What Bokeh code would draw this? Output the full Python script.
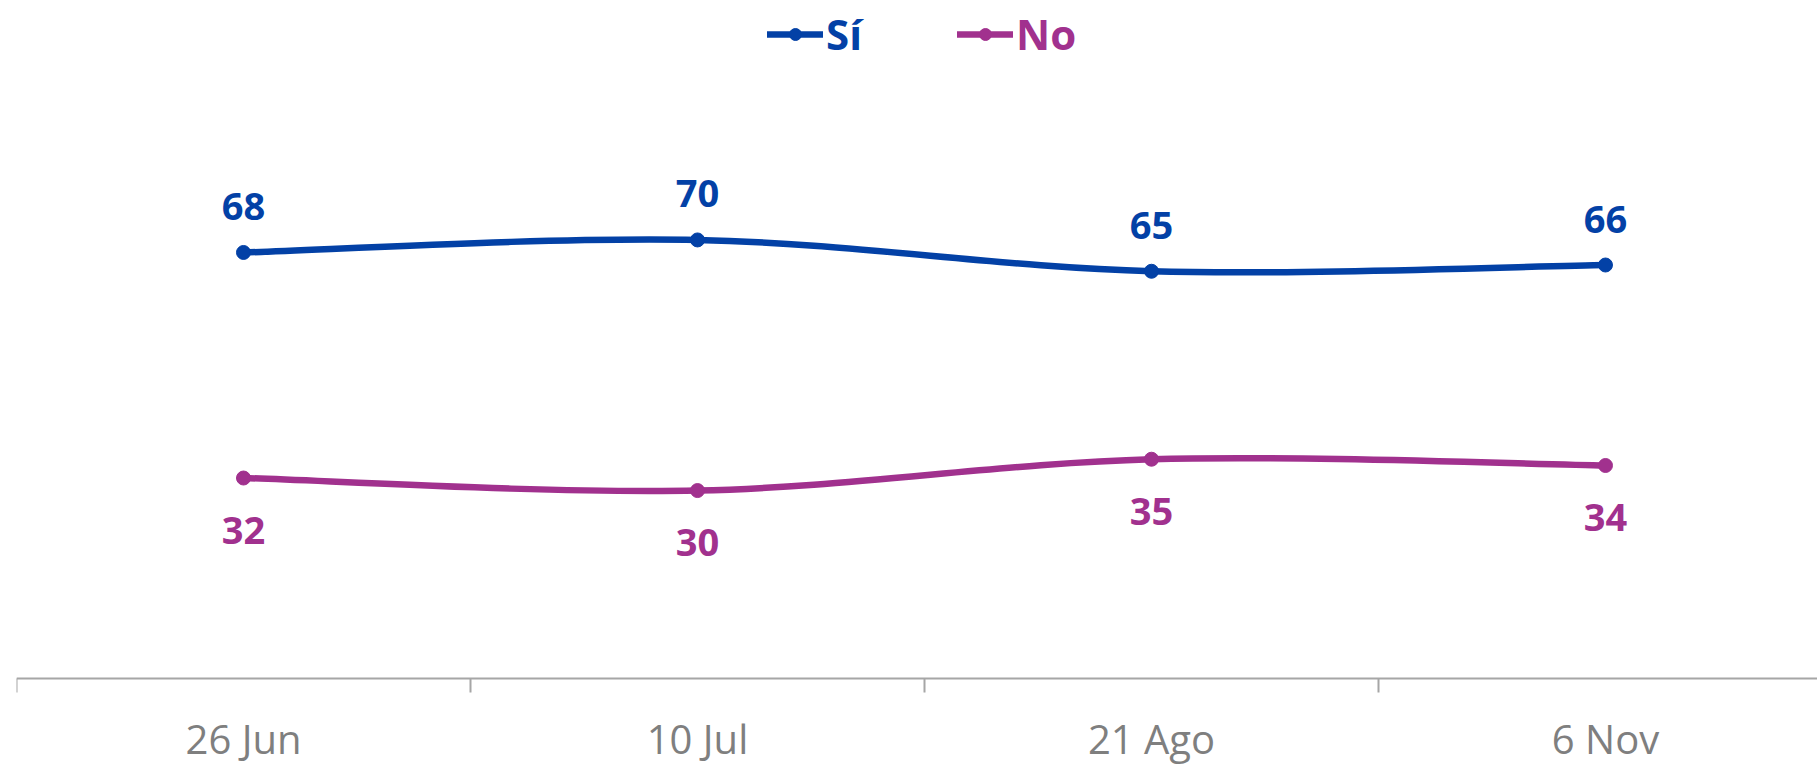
from bokeh.plotting import figure
from bokeh.models import Range1d, FixedTicker, Legend, LegendItem
from bokeh.core.properties import value
from bokeh.embed import file_html
from bokeh.resources import INLINE

# ---- data ----
dates = ["26 Jun", "10 Jul", "21 Ago", "6 Nov"]
si_values = [68, 70, 65, 66]
no_values = [32, 30, 35, 34]
series_names = ["Sí", "No"]

BLUE = "#0341A6"
PURPLE = "#A1318E"
AXIS_GRAY = "#A6A6A6"
LABEL_GRAY = "#7F7F7F"
FONT = "Open Sans"

xs = list(range(len(dates)))


def smooth_segments(x, y):
    """Cubic Bezier control points (Catmull-Rom style) for a smoothed line."""
    n = len(x)
    seg = dict(x0=[], y0=[], x1=[], y1=[], cx0=[], cy0=[], cx1=[], cy1=[])
    for i in range(n - 1):
        ip = max(i - 1, 0)
        iq = min(i + 2, n - 1)
        seg["x0"].append(x[i]); seg["y0"].append(y[i])
        seg["x1"].append(x[i + 1]); seg["y1"].append(y[i + 1])
        seg["cx0"].append(x[i] + (x[i + 1] - x[ip]) / 6)
        seg["cy0"].append(y[i] + (y[i + 1] - y[ip]) / 6)
        seg["cx1"].append(x[i + 1] - (x[iq] - x[i]) / 6)
        seg["cy1"].append(y[i + 1] - (y[iq] - y[i]) / 6)
    return seg


# frame spans the whole canvas height; value 0 sits 86 px above the bottom
H = 764
ZERO_FROM_BOTTOM = 86
PX_PER_UNIT = 6.265
p = figure(width=1817, height=H,
           x_range=Range1d(-0.5, 3.467),
           y_range=Range1d(-ZERO_FROM_BOTTOM / PX_PER_UNIT,
                           (H - ZERO_FROM_BOTTOM) / PX_PER_UNIT),
           output_backend="svg", toolbar_location=None,
           y_axis_location=None,
           min_border_left=16, min_border_right=0, min_border_top=0,
           min_border_bottom=0)
p.outline_line_color = None
p.grid.visible = False
p.background_fill_color = "white"

ax = p.xaxis[0]
ax.fixed_location = 0
ax.axis_label = None
ax.ticker = FixedTicker(ticks=xs, minor_ticks=[i - 0.5 for i in range(len(dates) + 1)])
ax.major_label_overrides = {i: d for i, d in enumerate(dates)}
ax.axis_line_color = AXIS_GRAY
ax.axis_line_width = 2
ax.major_tick_line_color = None
ax.major_tick_out = 0
ax.major_tick_in = 0
ax.minor_tick_line_color = AXIS_GRAY
ax.minor_tick_line_width = 2
ax.minor_tick_out = 14
ax.minor_tick_in = 0
ax.major_label_text_font = FONT
ax.major_label_text_font_size = "40px"
ax.major_label_text_color = LABEL_GRAY
ax.major_label_standoff = 18

renderers = {}
for name, vals, color, dy in [(series_names[0], si_values, BLUE, -46),
                              (series_names[1], no_values, PURPLE, 52)]:
    seg = smooth_segments(xs, vals)
    line_r = p.bezier(x0=seg["x0"], y0=seg["y0"], x1=seg["x1"], y1=seg["y1"],
                      cx0=seg["cx0"], cy0=seg["cy0"], cx1=seg["cx1"], cy1=seg["cy1"],
                      line_color=color, line_width=6.5, line_cap="round")
    pts_r = p.scatter(x=xs, y=vals, size=14, marker="circle",
                      fill_color=color, line_color=color)
    p.text(x=xs, y=vals, text=[str(v) for v in vals],
           text_font=value(FONT), text_font_style="bold", text_font_size="38px",
           text_color=color, text_align="center", text_baseline="middle",
           y_offset=dy)
    renderers[name] = (line_r, pts_r, color)

for name, vx in [(series_names[0], 751), (series_names[1], 941)]:
    line_r, pts_r, color = renderers[name]
    leg = Legend(items=[LegendItem(label=name, renderers=[line_r, pts_r])],
                 location=(vx, H - 62), orientation="horizontal",
                 padding=0, margin=0, border_line_color=None,
                 background_fill_alpha=0,
                 glyph_width=56, glyph_height=30, label_standoff=3,
                 label_text_font=FONT, label_text_font_size="42px",
                 label_text_font_style="bold", label_text_color=color)
    p.add_layout(leg)

open("out.html", "w").write(file_html(p, INLINE))
